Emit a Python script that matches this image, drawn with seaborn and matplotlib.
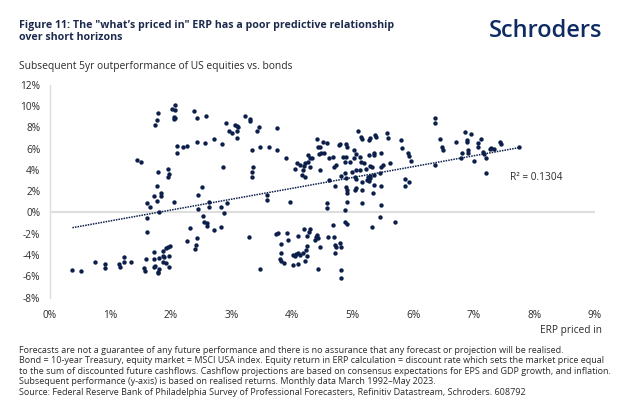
import pandas as pd
import seaborn as sns
import matplotlib.pyplot as plt

erp_low_left = [0.37, 0.51, 0.75, 0.90, 0.90, 1.14, 1.16, 1.22, 1.22, 1.34,
                1.58, 1.56, 1.57, 1.71, 1.72, 1.73, 1.71, 1.80, 1.80, 1.79,
                1.87, 1.88, 1.87, 1.86, 1.91, 1.95, 1.98, 1.91, 1.97, 1.97,
                1.79]
perf_low_left = [-5.40, -5.50, -4.68, -4.84, -5.25, -4.84, -5.09, -4.15, -4.62, -4.62,
                 -4.37, -5.25, -5.50, -3.71, -4.37, -5.03, -5.15, -4.31, -5.34, -5.71,
                 -3.65, -4.15, -4.62, -4.09, -3.37, -3.21, -3.15, -4.78, -4.09, -5.09,
                 -5.56]

erp_left = [2.07, 2.06, 1.79, 2.02, 2.04, 2.06, 2.05, 1.77, 1.73, 2.37,
            2.43, 2.10, 2.20, 2.27, 2.10, 2.42, 1.43, 1.51, 1.78, 1.95,
            1.97, 1.95, 1.77, 1.72, 1.83, 1.83, 1.60, 1.77, 1.65, 2.04,
            2.44, 2.44, 1.80, 1.60, 1.60, 2.32, 2.42, 2.27, 2.41, 2.39]
perf_left = [10.10, 9.62, 9.31, 9.68, 9.00, 8.84, 8.75, 8.68, 8.24, 9.56,
             8.84, 6.24, 6.12, 6.24, 5.62, 6.59, 4.93, 4.71, 3.80, 4.05,
             3.61, 3.30, 2.49, 1.55, 1.80, 1.55, 0.92, 1.05, 0.48, 0.95,
             1.64, 0.30, 0.08, -0.55, -1.86, -1.43, -2.40, -2.65, -3.05, -3.46]

erp_mid = [2.57, 2.90, 3.05, 3.08, 3.11, 2.96, 3.00, 3.09, 3.09, 3.22,
           3.30, 3.31, 3.45, 3.42, 3.75, 2.70, 2.84, 2.56, 3.33, 3.47,
           3.61, 3.75, 3.89, 2.86, 3.36, 3.34, 3.34, 4.41, 4.51, 4.43,
           4.46, 4.57, 4.48, 4.52, 4.44, 4.26, 4.30, 4.33, 4.26, 4.08,
           4.21, 4.19, 4.13, 4.05, 4.17, 4.16, 4.21, 4.30, 4.46, 4.60,
           4.68, 4.73, 4.69, 4.77, 4.60, 4.70, 2.51, 2.63, 2.63, 2.83,
           2.92, 2.87, 2.53, 2.54, 2.59, 2.60, 2.71, 2.82, 3.59, 3.59,
           3.97, 4.57, 4.57, 3.29, 3.74, 3.76, 3.92, 3.82, 3.93, 4.10,
           4.19, 4.28, 4.30, 4.25, 4.24, 4.22, 4.40, 4.43, 4.41, 4.38,
           4.46, 4.59, 4.68, 4.69, 4.71, 4.73, 4.70, 3.82, 3.80, 3.82,
           3.87, 4.02, 4.07, 4.10, 4.13, 4.04, 4.18, 4.25, 4.02, 4.09,
           4.21, 3.47, 4.43]
perf_mid = [9.09, 8.37, 8.25, 8.12, 8.06, 7.68, 7.43, 7.65, 7.02, 9.09,
            8.78, 8.62, 8.06, 7.62, 7.96, 6.93, 6.43, 6.49, 5.90, 6.18,
            6.18, 5.83, 5.08, 4.30, 4.24, 3.83, 3.30, 6.87, 6.65, 6.18,
            6.12, 6.49, 5.55, 5.62, 5.46, 5.40, 5.08, 5.08, 4.77, 4.68,
            4.61, 4.36, 4.46, 4.05, 3.99, 3.52, 3.30, 4.24, 3.99, 5.08,
            5.24, 4.43, 4.30, 6.37, 3.05, 2.52, 2.36, 0.98, 0.55, 0.55,
            0.92, -0.02, -0.33, -0.86, -1.02, -1.27, -1.65, -1.33, 1.64, 1.14,
            0.98, 0.86, 0.42, -2.30, -2.05, -1.96, -1.90, -2.99, -2.58, -2.18,
            -1.52, -1.80, -1.58, -2.18, -3.15, -3.52, -2.27, -2.43, -2.12, -2.58,
            -3.21, -2.27, -1.14, -2.27, -3.05, -3.27, -3.84, -3.84, -4.40, -4.53,
            -4.78, -3.99, -3.93, -3.84, -4.02, -4.09, -3.84, -4.12, -4.93, -4.87,
            -4.53, -5.28, -5.31]

erp_right = [5.09, 5.14, 5.15, 5.27, 5.28, 5.36, 5.38, 5.57, 5.58, 5.80,
             5.81, 5.92, 5.93, 5.96, 6.36, 6.36, 6.44, 6.48, 6.49, 6.70,
             6.86, 6.89, 6.88, 6.96, 6.90, 6.90, 7.07, 7.07, 4.79, 4.88,
             4.90, 4.88, 5.02, 5.05, 5.02, 4.84, 4.87, 4.95, 5.12, 5.14,
             5.19, 5.26, 5.35, 5.35, 5.46, 5.62, 5.50, 5.46, 5.28, 5.32,
             5.21, 5.12, 5.05, 4.98, 4.87, 4.81, 4.88, 5.04, 5.05, 5.16,
             5.23, 5.28, 5.25, 5.29, 5.26, 5.35, 5.45, 5.35, 5.46, 5.16,
             5.05, 5.04, 4.90, 4.88, 4.91, 5.34, 5.86, 5.93, 5.87, 6.36,
             6.80, 6.79, 7.00, 4.90, 5.16, 5.46, 4.87, 5.45, 4.87, 4.91,
             5.32, 5.69, 4.81, 4.81, 4.79, 4.80]
perf_right = [7.68, 7.12, 6.87, 6.81, 6.96, 7.27, 7.06, 7.43, 6.96, 6.81,
              6.09, 5.62, 5.30, 4.86, 8.87, 8.37, 6.90, 6.18, 5.87, 6.59,
              7.59, 6.81, 6.59, 7.37, 5.87, 5.62, 6.49, 6.18, 6.43, 6.43,
              6.18, 5.24, 5.87, 5.46, 5.08, 5.24, 4.77, 4.77, 5.24, 4.77,
              4.68, 5.40, 5.55, 5.40, 5.55, 4.68, 4.46, 4.30, 4.36, 4.30,
              4.05, 3.99, 3.99, 3.83, 3.68, 3.42, 3.21, 3.30, 3.11, 2.89,
              3.05, 3.42, 3.30, 3.21, 2.99, 3.52, 3.68, 2.58, 2.49, 2.11,
              2.27, 2.11, 2.11, 2.36, 1.80, 1.80, 3.11, 2.89, 2.49, 4.46,
              5.55, 5.08, 4.83, 1.01, 0.86, 0.70, 0.23, -0.39, -0.86, -1.11,
              -1.33, -0.89, -5.40, -6.18, -2.84, -3.27]

erp_far_right = [7.11, 7.15, 7.16, 7.20, 7.20, 7.27, 7.29, 7.33, 7.43, 7.44, 7.75]
perf_far_right = [6.87, 5.71, 5.49, 5.08, 3.74, 5.93, 6.02, 5.99, 6.59, 6.40, 6.12]

x_ticks = [0, 1, 2, 3, 4, 5, 6, 7, 8, 9]
y_ticks = [-8, -6, -4, -2, 0, 2, 4, 6, 8, 10, 12]
r2_label = "R² = 0.1304"

title = ('Figure 11: The "what\u2019s priced in" ERP has a poor predictive relationship\n'
         'over short horizons')
subtitle = "Subsequent 5yr outperformance of US equities vs. bonds"
footnote = ("Forecasts are not a guarantee of any future performance and there is no assurance that any forecast or projection will be realised.\n"
            "Bond = 10-year Treasury, equity market = MSCI USA index. Equity return in ERP calculation = discount rate which sets the market price equal\n"
            "to the sum of discounted future cashflows. Cashflow projections are based on consensus expectations for EPS and GDP growth, and inflation.\n"
            "Subsequent performance (y-axis) is based on realised returns. Monthly data March 1992\u2013May 2023.\n"
            "Source: Federal Reserve Bank of Philadelphia Survey of Professional Forecasters, Refinitiv Datastream, Schroders. 608792")

df = pd.DataFrame({
    "erp": erp_low_left + erp_left + erp_mid + erp_right + erp_far_right,
    "perf": perf_low_left + perf_left + perf_mid + perf_right + perf_far_right,
})

sns.set_theme(style="white")
plt.rcParams["font.family"] = ["Open Sans", "DejaVu Sans"]

navy = "#0c1f4a"
grey_txt = "#2b2b2b"

fig = plt.figure(figsize=(6.22, 4.17), dpi=100)
ax = fig.add_axes([0.0804, 0.2861, 0.8762, 0.5108])

ax.axhline(0, color="#dedede", lw=1.5, zorder=0)
sns.scatterplot(data=df, x="erp", y="perf", ax=ax, color=navy, s=10, linewidth=0, zorder=3)
sns.regplot(data=df, x="erp", y="perf", ax=ax, scatter=False, ci=None, truncate=True,
            line_kws=dict(color=navy, lw=1.1, ls=(0, (1, 0.7)), zorder=2))

ax.set_xlim(0, 9)
ax.set_ylim(-8, 12)
ax.set_xticks(x_ticks)
ax.set_xticklabels([f"{t}%" for t in x_ticks])
ax.set_yticks(y_ticks)
ax.set_yticklabels([f"{t}%" for t in y_ticks])
ax.tick_params(axis="both", length=0, labelsize=7.3, labelcolor=grey_txt)
ax.tick_params(axis="x", pad=9)
ax.tick_params(axis="y", pad=7)
ax.set_xlabel("")
ax.set_ylabel("")
for side in ["top", "right", "bottom"]:
    ax.spines[side].set_visible(False)
ax.spines["left"].set_color("#dedede")
ax.spines["left"].set_linewidth(1)

ax.text(7.59, 3.3, r2_label, fontsize=7.3, color=grey_txt, va="center", ha="left")

fig.text(19 / 622, 1 - 31.3 / 417, title, fontsize=7.7, fontweight="bold", color="#1c2a4d",
         va="center", ha="left", linespacing=1.15)
fig.text(602 / 622, 1 - 31 / 417, "Schroders", fontsize=17, fontweight="semibold", color="#0e2b62",
         va="center", ha="right")
fig.text(19 / 622, 1 - 66.7 / 417, subtitle, fontsize=7.4, color=grey_txt, va="center", ha="left")
fig.text(601.7 / 622, 1 - 330.7 / 417, "ERP priced in", fontsize=7.3, color=grey_txt, va="center", ha="right")
fig.text(19 / 622, 1 - 346 / 417, footnote, fontsize=6.5, color=grey_txt, va="top", ha="left",
         linespacing=1.2)

fig.savefig("out.png", dpi=100)
